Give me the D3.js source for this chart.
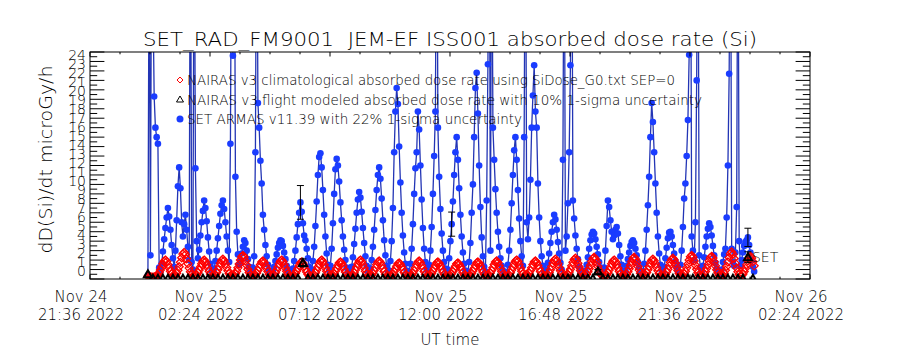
<!DOCTYPE html>
<html>
<head>
<meta charset="utf-8">
<script src="https://cdn.jsdelivr.net/npm/d3@7"></script>
<style>
  body { margin: 0; background: #fff; }
  text { font-family: "DejaVu Sans", "Liberation Sans", sans-serif; font-weight: 200; fill: #000; white-space: pre; }
</style>
</head>
<body>
<div id="chart"></div>
<script>
// ---- data ----
var chartTitle = "SET_RAD_FM9001  JEM-EF ISS001 absorbed dose rate (Si)";
var yLabel = "dD(Si)/dt microGy/h";
var xLabel = "UT time";

// x axis: major tick times (labels every 4.8 h)
var xTickTimes = ["2022-11-24T21:36:00Z", "2022-11-25T02:24:00Z", "2022-11-25T07:12:00Z",
  "2022-11-25T12:00:00Z", "2022-11-25T16:48:00Z", "2022-11-25T21:36:00Z", "2022-11-26T02:24:00Z"];
var yTickLabels = [0, 1, 2, 3, 4, 5, 6, 7, 8, 9, 10, 11, 12, 13, 14, 15, 16, 17, 18, 19, 20, 21, 22, 23, 24];

var legendLabels = [
  "NAIRAS v3 climatological absorbed dose rate using SiDose_G0.txt SEP=0",
  "NAIRAS v3 flight modeled absorbed dose rate with 10% 1-sigma uncertainty",
  "SET ARMAS v11.39 with 22% 1-sigma uncertainty"
];

// SET ARMAS samples, 3 min cadence (one row per half-orbit hump)
var setStart = "2022-11-24T23:55:00Z";
var setStepMin = 3;
var setDose = [
  0.4, 38, 2.5, 42, 30, 19.3,
  16.0, 15.0, 14.3, 1.2, 0.8, 1.6, 2.9, 4.2, 5.4, 6.5, 7.5, 6.6, 5.2, 3.6, 2.2,
  1.3, 3.0, 6.2, 9.8, 11.8, 9.6, 6.0, 4.5, 5.8, 6.8, 5.2, 3.4, 2.0, 44, 1.8, 1.0,
  45, 11.7, 4.0, 2.2, 3.1, 4.6, 6.0, 7.2, 8.3, 7.5, 6.1, 4.4, 2.9, 1.6, 0.9,
  0.7, 1.1, 1.9, 3.0, 4.3, 5.6, 6.9, 7.8, 8.3, 7.4, 6.0, 4.5, 3.0, 1.8, 14.3, 42,
  23.6, 48, 10.8, 5.0, 2.6, 1.5, 1.9, 2.7, 3.4, 4.1, 3.8, 3.0, 2.1, 1.3, 0.8, 0.6,
  1.2, 2.4, 13.4, 46, 18.6, 16.0, 12.5, 10.1, 6.8, 5.2, 3.6, 2.4, 1.5, 0.9, 0.6,
  0.5, 0.8, 1.3, 1.9, 2.6, 3.3, 3.8, 4.1, 4.0, 3.5, 2.8, 2.1, 1.4, 0.9, 0.6, 0.5,
  0.6, 1.1, 1.9, 3.0, 4.4, 5.8, 7.0, 8.1, 7.1, 5.9, 4.6, 4.1, 3.2, 2.2, 1.3, 0.8,
  1.0, 1.9, 3.4, 5.6, 8.2, 11.0, 12.9, 13.3, 11.8, 9.4, 6.8, 4.5, 2.7, 1.5, 0.9,
  1.4, 3.2, 5.9, 9.0, 11.6, 12.7, 12.0, 10.3, 8.1, 6.2, 4.5, 3.1, 2.0, 1.2, 0.8, 0.6,
  0.7, 1.3, 2.3, 3.7, 5.3, 7.0, 8.4, 9.2, 8.6, 7.1, 5.4, 3.8, 2.4, 1.4, 0.8,
  0.6, 1.1, 2.0, 3.4, 5.2, 7.3, 9.4, 11.0, 11.8, 10.6, 8.5, 6.2, 4.1, 2.5, 1.4, 0.8,
  0.9, 1.9, 4.0, 7.5, 13.4, 17.7, 20.2, 18.5, 14.0, 10.2, 7.0, 4.6, 2.8, 1.6, 0.9, 0.6,
  0.8, 1.6, 3.2, 5.8, 9.0, 11.7, 13.4, 17.7, 15.8, 12.0, 8.4, 5.4, 3.2, 1.8, 1.0,
  0.7, 1.5, 3.0, 5.5, 9.0, 13.0, 17.7, 48, 16.0, 10.8, 7.4, 4.8, 3.0, 1.8, 1.1, 0.7,
  1.0, 2.2, 4.0, 5.8, 8.2, 11.0, 13.4, 15.0, 12.6, 9.6, 6.8, 4.5, 2.8, 1.6, 0.9, 0.6,
  0.8, 1.8, 3.8, 7.0, 10.0, 15.0, 20.2, 21.8, 17.5, 12.0, 7.6, 4.4, 2.4, 1.3, 0.8,
  8.3, 22.7, 46, 3.0, 44, 16.0, 12.6, 9.5, 7.0, 5.0, 3.4, 2.2, 1.4, 0.9, 0.6, 0.5,
  0.7, 1.5, 3.0, 5.2, 8.0, 11.0, 13.6, 15.0, 12.6, 9.4, 6.4, 4.0, 2.4, 1.4, 15.0,
  47, 6.0, 4.2, 6.5, 10.5, 16.0, 19.4, 22.6, 17.7, 16.0, 10.1, 6.5, 4.0, 2.4, 1.4, 0.8,
  0.6, 1.0, 1.7, 2.7, 3.8, 5.0, 6.0, 6.8, 6.3, 5.2, 3.9, 2.7, 1.7, 1.0, 12.6, 44,
  3.0, 4.5, 8.0, 13.4, 22.6, 45, 8.3, 6.4, 4.6, 3.2, 2.1, 1.3, 0.8, 0.6, 0.5,
  0.6, 0.9, 1.5, 2.3, 3.2, 4.1, 4.7, 5.0, 4.8, 4.2, 3.4, 2.6, 1.8, 1.2, 0.8, 0.6,
  1.2, 3.0, 5.6, 8.3, 7.6, 6.2, 5.0, 4.2, 4.6, 5.2, 5.5, 4.8, 3.6, 2.4, 1.5, 0.9,
  0.6, 0.9, 1.4, 2.1, 2.8, 3.5, 3.9, 4.1, 3.8, 3.2, 2.5, 1.8, 1.2, 0.8, 0.6,
  0.8, 1.6, 3.0, 5.2, 7.8, 10.8, 15.0, 18.6, 16.6, 13.4, 10.1, 7.0, 4.5, 2.7, 1.5, 0.9,
  0.7, 1.3, 2.2, 3.3, 4.3, 4.9, 5.0, 4.5, 3.6, 2.7, 1.9, 1.2, 0.8, 0.6, 1.5,
  3.0, 5.5, 8.5, 10.1, 13.0, 16.8, 23.7, 47, 4.5, 3.0, 2.0, 6.0, 21.0, 46, 2.5, 1.2,
  0.8, 1.4, 2.3, 3.4, 4.5, 5.3, 5.9, 5.5, 4.6, 3.5, 2.5, 1.7, 1.1, 0.7, 0.5, 0.6,
  1.0, 1.8, 2.6, 3.2, 6.5, 12.0, 21.7, 46, 3.2, 1.8, 1.4, 2.8, 7.6, 45, 4.0,
  1.4, 2.0, 2.8, 3.5, 3.9, 4.1, 4.4, 3.6, 2.8, 2.0, 1.3, 0.8
];
var setErrIdx = [122, 243, 480];
var setSigma = 0.22;

// NAIRAS climatological, same 3 min grid
var climDose = [
  0.3, 0.26, 0.22, 0.2, 0.2, 0.22,
  0.24, 0.3, 0.44, 0.66, 0.94, 1.26, 1.6, 1.88, 2.0, 1.84, 1.52, 1.16, 0.82, 0.54, 0.34,
  0.3, 0.4, 0.6, 0.92, 1.3, 1.76, 2.24, 2.63, 2.8, 2.58, 2.13, 1.62, 1.15, 0.76, 0.48, 0.32,
  0.25, 0.31, 0.45, 0.67, 0.95, 1.27, 1.61, 1.88, 2.0, 1.83, 1.5, 1.15, 0.81, 0.53, 0.33,
  0.25, 0.32, 0.46, 0.69, 0.99, 1.32, 1.68, 1.97, 2.1, 1.93, 1.6, 1.22, 0.86, 0.57, 0.36, 0.25,
  0.28, 0.37, 0.55, 0.82, 1.18, 1.58, 2.0, 2.35, 2.5, 2.3, 1.9, 1.45, 1.03, 0.68, 0.43, 0.3,
  0.23, 0.29, 0.42, 0.63, 0.89, 1.2, 1.52, 1.79, 1.9, 1.75, 1.44, 1.1, 0.78, 0.51, 0.32,
  0.24, 0.3, 0.44, 0.66, 0.94, 1.26, 1.6, 1.88, 2.0, 1.84, 1.52, 1.16, 0.82, 0.54, 0.34, 0.24,
  0.22, 0.27, 0.4, 0.59, 0.85, 1.13, 1.44, 1.69, 1.8, 1.66, 1.37, 1.04, 0.74, 0.49, 0.31, 0.22,
  0.24, 0.3, 0.44, 0.66, 0.94, 1.26, 1.6, 1.88, 2.0, 1.84, 1.52, 1.16, 0.82, 0.54, 0.34,
  0.22, 0.27, 0.4, 0.59, 0.85, 1.13, 1.44, 1.69, 1.8, 1.66, 1.37, 1.04, 0.74, 0.49, 0.31, 0.22,
  0.24, 0.31, 0.45, 0.67, 0.95, 1.27, 1.61, 1.89, 2.0, 1.83, 1.51, 1.15, 0.81, 0.53, 0.33,
  0.23, 0.29, 0.42, 0.63, 0.89, 1.2, 1.52, 1.79, 1.9, 1.75, 1.44, 1.1, 0.78, 0.51, 0.32, 0.23,
  0.2, 0.26, 0.37, 0.56, 0.8, 1.07, 1.36, 1.6, 1.7, 1.56, 1.29, 0.99, 0.7, 0.46, 0.29, 0.2,
  0.23, 0.29, 0.42, 0.63, 0.89, 1.2, 1.52, 1.79, 1.9, 1.75, 1.44, 1.1, 0.78, 0.51, 0.32,
  0.22, 0.27, 0.4, 0.59, 0.85, 1.13, 1.44, 1.69, 1.8, 1.66, 1.37, 1.04, 0.74, 0.49, 0.31, 0.22,
  0.2, 0.26, 0.37, 0.56, 0.8, 1.07, 1.36, 1.6, 1.7, 1.56, 1.29, 0.99, 0.7, 0.46, 0.29, 0.2,
  0.22, 0.27, 0.4, 0.59, 0.85, 1.13, 1.44, 1.69, 1.8, 1.66, 1.37, 1.04, 0.74, 0.49, 0.31,
  0.23, 0.29, 0.42, 0.63, 0.89, 1.2, 1.52, 1.79, 1.9, 1.75, 1.44, 1.1, 0.78, 0.51, 0.32, 0.23,
  0.24, 0.3, 0.44, 0.66, 0.94, 1.26, 1.6, 1.88, 2.0, 1.84, 1.52, 1.16, 0.82, 0.54, 0.34,
  0.23, 0.29, 0.42, 0.63, 0.89, 1.2, 1.52, 1.79, 1.9, 1.75, 1.44, 1.1, 0.78, 0.51, 0.32, 0.23,
  0.25, 0.32, 0.46, 0.69, 0.99, 1.32, 1.68, 1.97, 2.1, 1.93, 1.6, 1.22, 0.86, 0.57, 0.36, 0.25,
  0.26, 0.33, 0.48, 0.73, 1.03, 1.39, 1.76, 2.07, 2.2, 2.02, 1.67, 1.28, 0.9, 0.59, 0.37,
  0.28, 0.35, 0.51, 0.76, 1.08, 1.45, 1.84, 2.16, 2.3, 2.12, 1.75, 1.33, 0.94, 0.62, 0.39, 0.28,
  0.24, 0.3, 0.44, 0.66, 0.94, 1.26, 1.6, 1.88, 2.0, 1.84, 1.52, 1.16, 0.82, 0.54, 0.34, 0.24,
  0.28, 0.35, 0.51, 0.76, 1.08, 1.45, 1.84, 2.16, 2.3, 2.12, 1.75, 1.33, 0.94, 0.62, 0.39,
  0.25, 0.32, 0.46, 0.69, 0.99, 1.32, 1.68, 1.97, 2.1, 1.93, 1.6, 1.22, 0.86, 0.57, 0.36, 0.25,
  0.26, 0.33, 0.48, 0.73, 1.03, 1.39, 1.76, 2.07, 2.2, 2.02, 1.67, 1.28, 0.9, 0.59, 0.37,
  0.28, 0.37, 0.55, 0.82, 1.18, 1.58, 2.0, 2.35, 2.5, 2.3, 1.9, 1.45, 1.03, 0.68, 0.43, 0.3,
  0.29, 0.36, 0.53, 0.79, 1.13, 1.51, 1.92, 2.26, 2.4, 2.21, 1.82, 1.39, 0.98, 0.65, 0.41, 0.29,
  0.31, 0.41, 0.61, 0.93, 1.33, 1.8, 2.28, 2.68, 2.85, 2.62, 2.17, 1.65, 1.17, 0.77, 0.48,
  0.29, 0.36, 0.53, 0.79, 1.13, 1.51, 1.92, 2.26, 2.4, 2.21, 1.82, 1.39
];

// NAIRAS flight model, 12 min cadence
var flightStart = "2022-11-24T23:55:00Z";
var flightStepMin = 12;
var flightDose = [
  0.5, 0.03, 0.02, 0.02, 0.03, 0.02, 0.02, 0.03, 0.02, 0.02,
  0.02, 0.03, 0.02, 0.02, 0.03, 0.02, 0.02, 0.03, 0.02, 0.02,
  0.02, 0.03, 0.02, 0.02, 0.03, 0.02, 0.02, 0.03, 0.02, 0.02,
  0.02, 1.7, 0.02, 0.02, 0.03, 0.02, 0.02, 0.03, 0.02, 0.02,
  0.02, 0.03, 0.02, 0.02, 0.03, 0.02, 0.02, 0.03, 0.02, 0.02,
  0.02, 0.03, 0.02, 0.02, 0.03, 0.02, 0.02, 0.03, 0.02, 0.02,
  0.02, 0.03, 0.02, 0.02, 0.03, 0.02, 0.02, 0.03, 0.02, 0.02,
  0.02, 0.03, 0.02, 0.02, 0.03, 0.02, 0.02, 0.03, 0.02, 0.02,
  0.02, 0.03, 0.02, 0.02, 0.03, 0.02, 0.02, 0.03, 0.02, 0.02,
  0.8, 0.03, 0.02, 0.02, 0.03, 0.02, 0.02, 0.03, 0.02, 0.02,
  0.02, 0.03, 0.02, 0.02, 0.03, 0.02, 0.02, 0.03, 0.02, 0.02,
  0.02, 0.03, 0.02, 0.02, 0.03, 0.02, 0.02, 0.03, 0.02, 0.02,
  2.3, 0.02
];
var flightErrIdx = [31, 90, 120];
var flightSigma = 0.25;
var flightLabel = "SET";

// ---- layout ----
var margin = {top: 52, right: 90, bottom: 71, left: 90};
var width = 900 - margin.left - margin.right;
var height = 350 - margin.top - margin.bottom;

var svgRoot = d3.select("#chart")
  .append("svg")
  .attr("width", 900)
  .attr("height", 350)
  .style("background", "white");

var svg = svgRoot.append("g")
  .attr("transform", "translate(" + margin.left + "," + margin.top + ")");

svg.append("clipPath").attr("id", "plotclip")
  .append("rect").attr("x", 0).attr("y", 0).attr("width", width).attr("height", height);

var tickDates = xTickTimes.map(function (d) { return new Date(d); });

var xscale = d3.scaleUtc()
  .domain([tickDates[0], tickDates[tickDates.length - 1]])
  .range([0, width]);

var yscale = d3.scaleLinear()
  .domain([0, 24])
  .range([height, 0]);

function timesFor(start, stepMin, n) {
  var t0 = +new Date(start);
  return d3.range(n).map(function (i) { return new Date(t0 + i * stepMin * 60000); });
}

var setTimes = timesFor(setStart, setStepMin, setDose.length);
var setData = setDose.map(function (v, i) { return {t: setTimes[i], v: v}; });
var climTimes = timesFor(setStart, setStepMin, climDose.length);
var climData = climDose.map(function (v, i) { return {t: climTimes[i], v: v}; });
var flightTimes = timesFor(flightStart, flightStepMin, flightDose.length);
var flightData = flightDose.map(function (v, i) { return {t: flightTimes[i], v: v}; });

var plot = svg.append("g").attr("clip-path", "url(#plotclip)");

// SET ARMAS line + dots
plot.append("path")
  .datum(setData)
  .attr("fill", "none")
  .attr("stroke", "#2335b5")
  .attr("stroke-width", 1.3)
  .attr("d", d3.line()
    .x(function (d) { return xscale(d.t) })
    .y(function (d) { return yscale(d.v) })
  );

plot.selectAll("circle.set")
  .data(setData)
  .enter()
  .append("circle")
  .attr("class", "set")
  .attr("cx", d => xscale(d.t))
  .attr("cy", d => yscale(d.v))
  .attr("r", 3.3)
  .attr("fill", "#1a3cff");

// NAIRAS climatological diamonds
var diamond = "M0,-4L4,0L0,4L-4,0Z";
plot.selectAll("path.clim")
  .data(climData)
  .enter()
  .append("path")
  .attr("class", "clim")
  .attr("d", diamond)
  .attr("transform", d => "translate(" + xscale(d.t) + "," + yscale(d.v) + ")")
  .attr("fill", "none")
  .attr("stroke", "#ff0000")
  .attr("stroke-width", 1.3);

// NAIRAS flight triangles
var triangle = "M0,-4L4,3L-4,3Z";
plot.selectAll("path.flight")
  .data(flightData)
  .enter()
  .append("path")
  .attr("class", "flight")
  .attr("d", triangle)
  .attr("transform", d => "translate(" + xscale(d.t) + "," + yscale(d.v) + ")")
  .attr("fill", "none")
  .attr("stroke", "black")
  .attr("stroke-width", 2);

// error bars
function errorBars(points, sigma) {
  var g = plot.append("g").attr("stroke", "black").attr("stroke-width", 1);
  points.forEach(function (d) {
    var x = xscale(d.t), lo = yscale(d.v * (1 - sigma)), hi = yscale(d.v * (1 + sigma));
    g.append("line").attr("x1", x).attr("x2", x).attr("y1", lo).attr("y2", hi);
    g.append("line").attr("x1", x - 3.5).attr("x2", x + 3.5).attr("y1", lo).attr("y2", lo);
    g.append("line").attr("x1", x - 3.5).attr("x2", x + 3.5).attr("y1", hi).attr("y2", hi);
  });
}
errorBars(setErrIdx.map(function (i) { return setData[i]; }), setSigma);
errorBars(flightErrIdx.map(function (i) { return flightData[i]; }), flightSigma);

var lastFlight = flightData[flightErrIdx[flightErrIdx.length - 1]];
svg.append("text")
  .attr("x", xscale(lastFlight.t) + 4)
  .attr("y", yscale(lastFlight.v) + 5)
  .style("font-size", "14px")
  .text(flightLabel);

// ---- axes (IDL style box) ----
svg.append("rect")
  .attr("x", 0).attr("y", 0).attr("width", width).attr("height", height)
  .attr("fill", "none").attr("stroke", "black").attr("stroke-width", 1);

var t0 = +tickDates[0];
var minorX = d3.range(0, 25).map(function (i) { return new Date(t0 + i * 72 * 60000); });
var ticksG = svg.append("g").attr("stroke", "black").attr("stroke-width", 1);

minorX.forEach(function (d, i) {
  var len = (i % 4 === 0) ? 4.5 : 2.3;
  var x = xscale(d);
  ticksG.append("line").attr("x1", x).attr("x2", x).attr("y1", height).attr("y2", height - len);
  ticksG.append("line").attr("x1", x).attr("x2", x).attr("y1", 0).attr("y2", len);
});

d3.range(0, 24.01, 0.5).forEach(function (v) {
  var len = (v % 1 === 0) ? 14.4 : 7.2;
  var y = yscale(v);
  ticksG.append("line").attr("x1", 0).attr("x2", len).attr("y1", y).attr("y2", y);
  ticksG.append("line").attr("x1", width - len).attr("x2", width).attr("y1", y).attr("y2", y);
});

// y tick labels (crowded, overlapping like the original)
var yLabelPos = d3.scaleLinear().domain([0, 24]).range([yscale(0) - 8, yscale(24) + 3]);
svg.append("g")
  .selectAll("text")
  .data(yTickLabels)
  .enter()
  .append("text")
  .attr("x", -4)
  .attr("y", d => yLabelPos(d))
  .attr("dy", "0.36em")
  .attr("text-anchor", "end")
  .style("font-size", "14px")
  .text(d => d);

// x tick labels, two lines each
var fmtDay = d3.utcFormat("%b %d");
var fmtTime = d3.utcFormat("%H:%M %Y");
var xLab = svg.append("g").selectAll("g")
  .data(tickDates)
  .enter()
  .append("g")
  .attr("transform", d => "translate(" + (xscale(d) - 9) + "," + height + ")");
xLab.append("text")
  .attr("y", 23)
  .attr("text-anchor", "middle")
  .style("font-size", "15px")
  .text(d => fmtDay(d));
xLab.append("text")
  .attr("y", 41)
  .attr("text-anchor", "middle")
  .style("font-size", "15px")
  .text(d => fmtTime(d));

svg.append("text")
  .attr("x", width / 2)
  .attr("y", height + 66)
  .attr("text-anchor", "middle")
  .style("font-size", "15px")
  .text(xLabel);

svg.append("text")
  .attr("transform", "translate(-44," + (height / 2 - 6) + ")rotate(-90)")
  .attr("text-anchor", "middle")
  .attr("dy", "0.35em")
  .attr("textLength", 188)
  .attr("lengthAdjust", "spacingAndGlyphs")
  .style("font-size", "17px")
  .text(yLabel);

svgRoot.append("text")
  .attr("x", 450)
  .attr("y", 46)
  .attr("text-anchor", "middle")
  .attr("textLength", 614)
  .attr("lengthAdjust", "spacingAndGlyphs")
  .style("font-size", "20px")
  .text(chartTitle);

// legend
var legendLen = [488, 515, 335];
var legend = svg.append("g");
legendLabels.forEach(function (label, i) {
  var ly = 28 + i * 19.5;
  if (i === 0) {
    legend.append("path").attr("d", "M0,-3L3,0L0,3L-3,0Z").attr("transform", "translate(90," + ly + ")")
      .attr("fill", "none").attr("stroke", "#ff0000");
  } else if (i === 1) {
    legend.append("path").attr("d", "M0,-3.5L3.5,2.5L-3.5,2.5Z").attr("transform", "translate(90," + ly + ")")
      .attr("fill", "none").attr("stroke", "black");
  } else {
    legend.append("circle").attr("cx", 90).attr("cy", ly).attr("r", 3.5).attr("fill", "#1a3cff");
  }
  legend.append("text")
    .attr("x", 97)
    .attr("y", ly + 5)
    .attr("textLength", legendLen[i])
    .attr("lengthAdjust", "spacingAndGlyphs")
    .style("font-size", "13.5px")
    .text(label);
});
</script>
</body>
</html>
